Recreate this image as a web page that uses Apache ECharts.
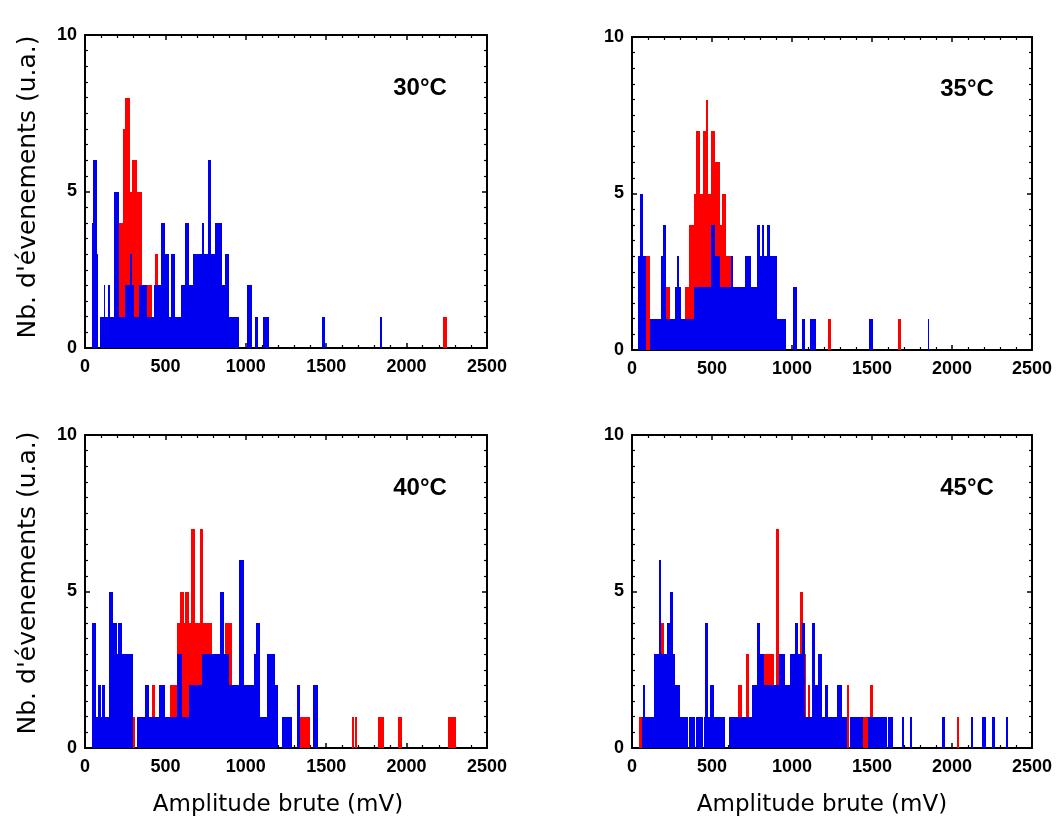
<!DOCTYPE html>
<html><head><meta charset="utf-8">
<script src="https://cdn.jsdelivr.net/npm/echarts@6/dist/echarts.min.js"></script>
<style>html,body{margin:0;padding:0;background:#fff}#c{width:1058px;height:825px}</style>
</head><body><div id="c"></div>
<script>
// ---- data: histogram steps [start mV, end mV, count] ----
const temperatures = ['30°C', '35°C', '40°C', '45°C'];
const yAxisTitle = "Nb. d'évenements (u.a.)";
const xAxisTitle = 'Amplitude brute (mV)';
const xTickValues = [0, 500, 1000, 1500, 2000, 2500];
const yTickValues = [0, 5, 10];

const red30 = [[213,234,4],[234,247,7],[247,278,8],[278,292,5],[292,323,6],[323,354,5],[354,417,2],[437,454,3],[2228,2249,1]];
const blue30 = [[43,52,4],[52,77,6],[77,83,3],[95,116,1],[116,126,2],[126,143,1],[143,155,2],[155,182,1],[182,209,5],[209,251,1],[251,278,2],[278,292,3],[292,303,2],[303,338,1],[338,388,2],[388,427,1],[427,475,2],[475,495,4],[495,524,3],[524,537,1],[537,562,3],[562,597,1],[597,624,2],[624,645,4],[645,670,2],[670,728,3],[728,740,4],[740,765,3],[765,786,6],[786,806,3],[806,852,4],[852,873,2],[873,898,3],[898,956,1],[1005,1036,2],[1057,1078,1],[1109,1146,1],[1472,1493,1],[1835,1849,1]];

const red35 = [[71,110,3],[205,240,2],[333,354,2],[354,385,4],[385,402,5],[402,423,7],[423,446,5],[446,460,7],[460,477,8],[477,494,5],[494,519,7],[519,548,6],[548,565,4],[565,588,5],[588,619,3],[1227,1244,1],[1660,1681,1]];
const blue35 = [[40,50,3],[50,71,5],[71,86,3],[112,183,1],[183,192,3],[192,212,4],[212,269,1],[269,281,2],[281,294,3],[294,306,2],[306,385,1],[385,494,2],[494,519,4],[519,548,3],[548,619,2],[619,633,3],[633,706,2],[706,744,3],[744,779,2],[779,798,4],[798,815,3],[815,827,4],[827,844,3],[844,865,4],[865,904,3],[904,960,1],[1006,1031,2],[1062,1079,1],[1112,1148,1],[1483,1508,1],[1848,1858,1]];

const red40 = [[296,309,1],[417,437,2],[531,572,2],[572,593,4],[593,614,5],[614,620,4],[620,645,5],[645,661,4],[661,682,7],[682,717,4],[717,732,7],[732,790,4],[790,873,2],[873,914,4],[1340,1400,1],[1658,1672,1],[1680,1690,1],[1820,1860,1],[1948,1969,1],[2259,2307,1]];
const blue40 = [[43,68,4],[68,81,1],[81,97,2],[97,106,1],[106,122,2],[122,147,1],[147,172,5],[172,201,4],[201,206,3],[206,230,4],[230,296,3],[323,375,1],[375,396,2],[396,462,1],[462,495,2],[495,572,1],[572,603,3],[603,645,1],[645,728,2],[728,840,3],[840,862,5],[862,893,3],[893,956,2],[956,987,6],[987,1049,2],[1049,1063,3],[1063,1088,4],[1088,1130,1],[1130,1181,3],[1181,1202,2],[1223,1285,1],[1316,1337,2],[1420,1451,2]];

const red45 = [[42,63,1],[183,198,4],[663,685,2],[712,731,3],[823,885,3],[902,917,7],[1021,1035,4],[1050,1071,5],[1071,1087,3],[1100,1115,2],[1342,1358,2],[1435,1480,1],[1490,1508,2],[2029,2046,1]];
const blue45 = [[63,69,1],[69,83,2],[83,135,1],[135,167,3],[167,183,6],[183,219,3],[219,235,4],[235,256,5],[256,271,3],[271,298,2],[298,352,1],[355,373,1],[376,394,1],[397,446,1],[449,458,1],[458,473,4],[473,490,1],[490,515,2],[515,583,1],[604,750,1],[750,781,2],[781,802,4],[802,823,3],[823,917,2],[917,958,3],[958,990,2],[990,1019,3],[1019,1035,4],[1035,1062,3],[1062,1083,4],[1083,1123,1],[1123,1144,4],[1144,1165,2],[1165,1185,3],[1185,1206,1],[1206,1227,2],[1227,1279,1],[1279,1310,2],[1310,1342,1],[1362,1446,1],[1477,1595,1],[1598,1633,1],[1685,1700,1],[1735,1750,1],[1940,1956,1],[2117,2133,1],[2190,2215,1],[2250,2268,1],[2335,2352,1]];

const panelRed = [red30, red35, red40, red45];
const panelBlue = [blue30, blue35, blue40, blue45];

// ---- layout ----
const grids = [
  {left: 85, top: 35, width: 402, height: 313},
  {left: 632, top: 37, width: 400, height: 313},
  {left: 85, top: 435, width: 402, height: 313},
  {left: 632, top: 435, width: 400, height: 313}
];
const tempPos = [[420, 88], [967, 89], [420, 488], [967, 488]];
const RED = '#ff0000', BLUE = '#0000f0';
const tickFont = "'Liberation Sans', Arial, sans-serif";

function renderStep(params, api) {
  const a = api.coord([api.value(0), api.value(2)]);
  const b = api.coord([api.value(1), 0]);
  const x0 = Math.round(a[0]);
  const x1 = Math.max(Math.round(b[0]), x0 + 1);
  const y0 = Math.round(a[1]);
  const y1 = Math.round(b[1]);
  return {type: 'rect', shape: {x: x0, y: y0, width: x1 - x0, height: y1 - y0},
          style: {fill: api.visual('color')}};
}

const xAxes = [], yAxes = [], series = [], graphics = [];
grids.forEach((g, i) => {
  const line = {show: true, onZero: false, lineStyle: {color: '#000', width: 2}};
  const xBase = {type: 'value', gridIndex: i, min: xTickValues[0], max: xTickValues[xTickValues.length - 1],
    interval: xTickValues[1] - xTickValues[0], axisLine: line, splitLine: {show: false},
    axisTick: {inside: true, length: 5, lineStyle: {color: '#000', width: 1.5}},
    minorTick: {show: true, splitNumber: 5, length: 3, lineStyle: {color: '#000', width: 1.2}}};
  xAxes.push(Object.assign({}, xBase, {position: 'bottom',
    axisLabel: {color: '#000', fontSize: 18, fontWeight: 'bold', fontFamily: tickFont, margin: 10,
                formatter: v => String(v)}}));
  xAxes.push(Object.assign({}, xBase, {position: 'top', axisLabel: {show: false}}));
  const yBase = {type: 'value', gridIndex: i, min: yTickValues[0], max: yTickValues[yTickValues.length - 1],
    interval: yTickValues[1] - yTickValues[0], axisLine: line, splitLine: {show: false},
    axisTick: {inside: true, length: 5, lineStyle: {color: '#000', width: 1.5}},
    minorTick: {show: true, splitNumber: 10, length: 3, lineStyle: {color: '#000', width: 1.2}}};
  yAxes.push(Object.assign({}, yBase, {position: 'left',
    axisLabel: {color: '#000', fontSize: 18, fontWeight: 'bold', fontFamily: tickFont, margin: 8,
                formatter: v => String(v)}}));
  yAxes.push(Object.assign({}, yBase, {position: 'right', axisLabel: {show: false}}));

  series.push({type: 'custom', name: temperatures[i] + ' rouge', xAxisIndex: 2 * i, yAxisIndex: 2 * i,
    renderItem: renderStep, encode: {x: [0, 1], y: 2}, itemStyle: {color: RED}, clip: true,
    data: panelRed[i], silent: true, z: 2});
  series.push({type: 'custom', name: temperatures[i] + ' bleu', xAxisIndex: 2 * i, yAxisIndex: 2 * i,
    renderItem: renderStep, encode: {x: [0, 1], y: 2}, itemStyle: {color: BLUE}, clip: true,
    data: panelBlue[i], silent: true, z: 3});

  graphics.push({type: 'text', x: tempPos[i][0], y: tempPos[i][1], z: 10,
    style: {text: temperatures[i], font: "bold 24px 'Liberation Sans', Arial, sans-serif",
            fill: '#000', textAlign: 'center', textVerticalAlign: 'middle'}});
});

[187, 583].forEach(cy => graphics.push({type: 'text', x: 28, y: cy, rotation: Math.PI / 2,
  style: {text: yAxisTitle, font: "25px 'DejaVu Sans', sans-serif", fill: '#000',
          textAlign: 'center', textVerticalAlign: 'middle'}}));
[278, 822].forEach(cx => graphics.push({type: 'text', x: cx, y: 805,
  style: {text: xAxisTitle, font: "23px 'DejaVu Sans', sans-serif", fill: '#000',
          textAlign: 'center', textVerticalAlign: 'middle'}}));

const chart = echarts.init(document.getElementById('c'), null, {renderer: 'canvas'});
chart.setOption({
  backgroundColor: '#fff', animation: false,
  grid: grids.map(g => Object.assign({containLabel: false}, g)),
  xAxis: xAxes, yAxis: yAxes, series: series, graphic: graphics
});
</script></body></html>
